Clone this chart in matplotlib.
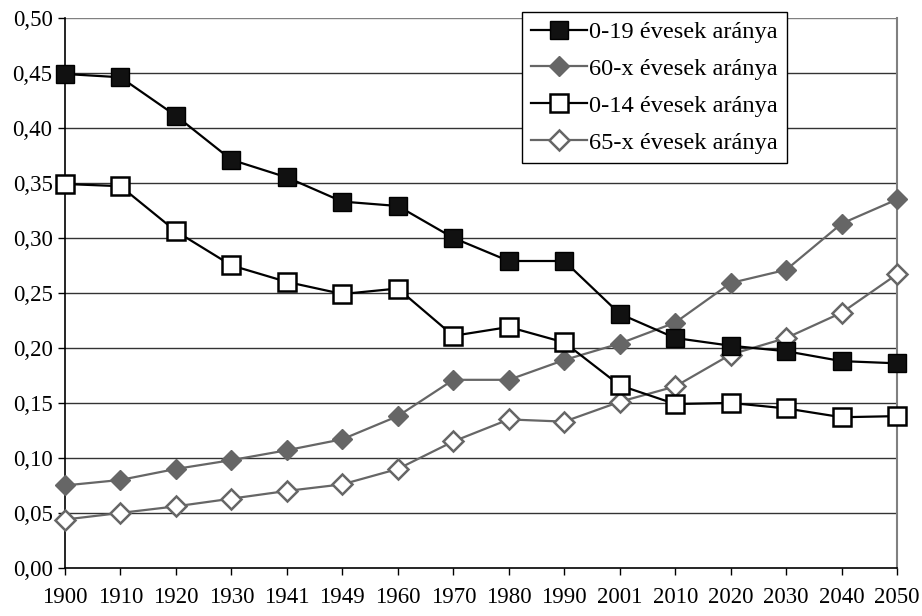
import matplotlib
matplotlib.use("Agg")
import matplotlib.pyplot as plt

years = ["1900", "1910", "1920", "1930", "1941", "1949", "1960", "1970",
         "1980", "1990", "2001", "2010", "2020", "2030", "2040", "2050"]

age_0_19 = [0.449, 0.446, 0.411, 0.371, 0.355, 0.333, 0.329, 0.300,
            0.279, 0.279, 0.231, 0.209, 0.202, 0.197, 0.188, 0.186]
age_60_x = [0.075, 0.080, 0.090, 0.098, 0.107, 0.117, 0.138, 0.171,
            0.171, 0.189, 0.204, 0.223, 0.259, 0.271, 0.313, 0.335]
age_0_14 = [0.349, 0.347, 0.306, 0.275, 0.260, 0.249, 0.254, 0.211,
            0.219, 0.205, 0.166, 0.149, 0.150, 0.145, 0.137, 0.138]
age_65_x = [0.044, 0.050, 0.056, 0.063, 0.070, 0.076, 0.090, 0.115,
            0.135, 0.133, 0.151, 0.165, 0.194, 0.209, 0.232, 0.267]

y_ticks = [0.0, 0.05, 0.10, 0.15, 0.20, 0.25, 0.30, 0.35, 0.40, 0.45, 0.50]

plt.rcParams["font.family"] = "Liberation Serif"
plt.rcParams["font.size"] = 16.5

fig = plt.figure(figsize=(9.22, 6.16), dpi=100)
ax = fig.add_axes([0.0705, 0.078, 0.9025, 0.893])

x = list(range(len(years)))
gray = "#666666"

ax.plot(x, age_0_19, color="black", lw=1.6, marker="s", ms=12.5,
        mfc="#111111", mec="black", label="0-19 évesek aránya", zorder=4, clip_on=False)
ax.plot(x, age_60_x, color=gray, lw=1.6, marker="D", ms=10.5,
        mfc=gray, mec=gray, label="60-x évesek aránya", zorder=3, clip_on=False)
ax.plot(x, age_0_14, color="black", lw=1.6, marker="s", ms=12.5,
        mfc="white", mec="black", mew=1.8, label="0-14 évesek aránya", zorder=4, clip_on=False)
ax.plot(x, age_65_x, color=gray, lw=1.6, marker="D", ms=10.5,
        mfc="white", mec=gray, mew=1.8, label="65-x évesek aránya", zorder=3, clip_on=False)

ax.set_xlim(0, 15)
ax.set_ylim(0, 0.5)
ax.set_xticks(x)
ax.set_xticklabels(years)
ax.set_yticks(y_ticks)
ax.set_yticklabels([f"{v:.2f}".replace(".", ",") for v in y_ticks])

for v in y_ticks[1:]:
    ax.axhline(v, color="#333333" if v < 0.5 else "#808080", lw=1, zorder=1)

ax.spines["top"].set_visible(False)
ax.spines["right"].set_color("#808080")
ax.spines["right"].set_linewidth(1.5)
ax.spines["left"].set_linewidth(1.2)
ax.spines["bottom"].set_linewidth(1.2)
ax.tick_params(axis="both", direction="out", length=5, width=1)
ax.tick_params(axis="x", pad=9)
ax.tick_params(axis="y", pad=4)

leg = ax.legend(loc="upper left", bbox_to_anchor=(0.549, 1.011), frameon=True,
                fancybox=False, edgecolor="black", framealpha=1,
                handlelength=2.3, handletextpad=0.05, labelspacing=0.6,
                borderpad=0.38, borderaxespad=0, fontsize=17.6)
leg.get_frame().set_linewidth(1)

fig.savefig("out.png", dpi=100)
